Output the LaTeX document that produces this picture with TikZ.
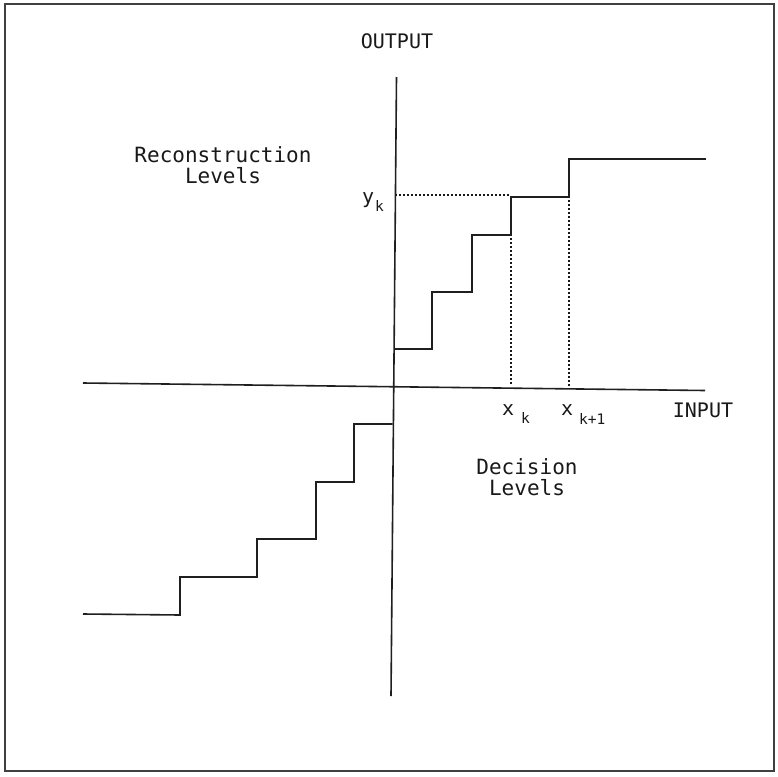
\documentclass[tikz,border=0pt]{standalone}
\usepackage{fontspec}
\newfontfamily\plotfont{DejaVu Sans Mono}
\begin{document}
\begin{tikzpicture}[x=1pt,y=-1pt,
  ink/.style={draw=black!88,line width=1.6pt,line join=miter},
  guide/.style={draw=black!90,line width=1.8pt,dash pattern=on 1.8pt off 2.2pt},
  frame/.style={draw=black!75,line width=2.4pt},
  lbl/.style={inner sep=0pt,font=\plotfont\fontsize{20}{21}\selectfont,text=black!90},
  biglbl/.style={inner sep=0pt,font=\plotfont\fontsize{21}{21}\selectfont,text=black!90},
  sub/.style={inner sep=0pt,font=\plotfont\fontsize{14.5}{15}\selectfont,text=black!90}]
  \useasboundingbox (0,0) rectangle (777,777);
  \fill[white] (0,0) rectangle (777,777);
  \draw[frame] (5,4) rectangle (774,771);

  % axes
  \coordinate (ytop) at (396.5,77);
  \coordinate (ybot) at (391,696);
  \coordinate (xleft) at (83,383);
  \coordinate (xright) at (705,390.5);
  \draw[ink] (ytop) -- (ybot);
  \draw[ink] (xleft) -- (xright);

  % quantiser staircase, positive side
  \draw[ink] (393.5,349) -- (432,349) -- (432,292) -- (472,292) -- (472,235)
    -- (511,235) -- (511,197) -- (569,197) -- (569,159) -- (706,159);
  % quantiser staircase, negative side
  \draw[ink] (83,614) -- (180,615) -- (180,577) -- (257,577) -- (257,539)
    -- (316,539) -- (316,482) -- (354,482) -- (354,424) -- (392.5,424);

  % dotted projections onto the axes
  \draw[guide] (395,195) -- (510,195);
  \draw[guide] (511,238) -- (511,385);
  \draw[guide] (569,200) -- (569,386);

  % labels
  \node[lbl,anchor=base] (out) at (397,48) {OUTPUT};
  \node[lbl,anchor=base] (inp) at (703,417) {INPUT};
  \node[biglbl,anchor=north,align=center] (recon) at (223,146) {Reconstruction\\Levels};
  \node[biglbl,anchor=north,align=center] (dec) at (527,458) {Decision\\Levels};
  \node[lbl,anchor=base west] (yk) at (362,203) {y};
  \node[sub,anchor=base west] (yks) at (375,211) {k};
  \node[lbl,anchor=base west] (xk) at (502,415) {x};
  \node[sub,anchor=base west] (xks) at (521,423) {k};
  \node[lbl,anchor=base west] (xk1) at (561,415) {x};
  \node[sub,anchor=base west] (xk1s) at (579,424) {k+1};
\end{tikzpicture}
\end{document}
